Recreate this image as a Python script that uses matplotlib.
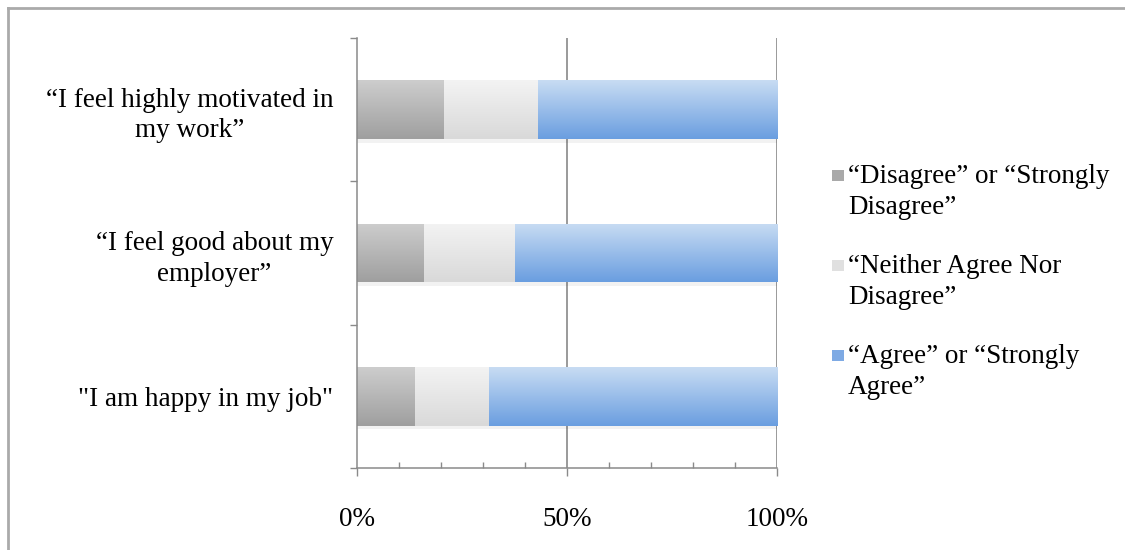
"""Stacked 100% survey bar chart with gradient fills."""

import matplotlib

matplotlib.use("Agg")

import matplotlib.pyplot as plt
import numpy as np
from matplotlib.colors import LinearSegmentedColormap
from matplotlib.lines import Line2D
from matplotlib.patches import Rectangle
from matplotlib.ticker import FixedLocator, MultipleLocator

statements = [
    "\u201cI feel highly motivated in\nmy work\u201d",
    "\u201cI feel good about my\nemployer\u201d",
    "\"I am happy in my job\"",
]
disagree = [20.7, 15.9, 13.8]
neutral = [22.3, 21.6, 17.6]
agree = [57.0, 62.5, 68.6]

series_labels = [
    "\u201cDisagree\u201d or \u201cStrongly\nDisagree\u201d",
    "\u201cNeither Agree Nor\nDisagree\u201d",
    "\u201cAgree\u201d or \u201cStrongly\nAgree\u201d",
]
# (top colour, bottom colour) of each gradient fill
gradients = [
    ("#cdcdcd", "#9f9f9f"),
    ("#f3f3f3", "#d9d9d9"),
    ("#c8dcf3", "#6a9ee0"),
]
legend_colors = ["#a9a9a9", "#e0e0e0", "#7eaae4"]
x_ticks = [0, 50, 100]
x_tick_labels = ["0%", "50%", "100%"]

plt.rcParams["font.family"] = ["Liberation Serif", "DejaVu Serif"]
AXIS_GREY = "#8a8a8a"
FONT_SIZE = 19.5
W, H = 1125, 550

fig = plt.figure(figsize=(W / 100, H / 100), dpi=100)
ax = fig.add_axes([357 / W, 1 - 468 / H, 420 / W, 430 / H])

y = np.arange(len(statements))
left = np.zeros(len(statements))
for values, (top, bottom) in zip([disagree, neutral, agree], gradients):
    # faint drop shadow under each segment
    ax.barh(y + 0.025, values, left=left, height=0.41, color="black", alpha=0.05,
            edgecolor="none", zorder=1.5)
    bars = ax.barh(y, values, left=left, height=0.41, facecolor="none", edgecolor="none")
    cmap = LinearSegmentedColormap.from_list("grad", [top, bottom])
    for patch in bars:
        x0, y0 = patch.get_x(), patch.get_y()
        w, h = patch.get_width(), patch.get_height()
        grad = np.linspace(0, 1, 128).reshape(-1, 1)
        im = ax.imshow(
            grad,
            cmap=cmap,
            extent=(x0, x0 + w, y0, y0 + h),
            origin="lower",
            aspect="auto",
            interpolation="bilinear",
            zorder=2,
        )
        im.set_clip_path(patch)
    left += np.array(values)

ax.set_xlim(0, 100)
ax.set_ylim(len(statements) - 0.5, -0.5)

# x axis
ax.xaxis.set_major_locator(FixedLocator(x_ticks))
ax.set_xticklabels(x_tick_labels, fontsize=FONT_SIZE)
ax.xaxis.set_minor_locator(MultipleLocator(10))
ax.tick_params(axis="x", which="major", length=6, width=1, color=AXIS_GREY, pad=22)
ax.tick_params(axis="x", which="minor", length=4, width=1, color=AXIS_GREY, direction="in")
for xv in x_ticks[1:]:
    ax.axvline(xv, color="#7f7f7f", linewidth=1.1, zorder=1)

# y axis: major ticks between categories, labels on minor ticks
ax.yaxis.set_major_locator(FixedLocator(np.arange(-0.5, len(statements), 1.0)))
ax.yaxis.set_major_formatter(plt.NullFormatter())
ax.yaxis.set_minor_locator(FixedLocator(y))
ax.set_yticklabels(statements, minor=True, fontsize=FONT_SIZE,
                   multialignment="center", linespacing=1.3)
ax.tick_params(axis="y", which="major", length=5, width=1, color=AXIS_GREY)
ax.tick_params(axis="y", which="minor", length=0, pad=17)

for side in ("top", "right"):
    ax.spines[side].set_visible(False)
for side in ("left", "bottom"):
    ax.spines[side].set_color(AXIS_GREY)
    ax.spines[side].set_linewidth(1.1)

# legend drawn by hand so the swatch sits beside the first line
for i, (label, color) in enumerate(zip(series_labels, legend_colors)):
    line_y = 175 + 90 * i
    fig.add_artist(Rectangle((832 / W, 1 - (line_y + 6) / H), 12 / W, 11 / H,
                             transform=fig.transFigure, facecolor=color, edgecolor="none"))
    fig.text(848 / W, 1 - (line_y - 11) / H, label, fontsize=FONT_SIZE, va="top",
             ha="left", linespacing=1.3)

# frame lines along the top and left edges
fig.add_artist(Line2D([8 / W, 1.0], [1 - 8 / H, 1 - 8 / H], color="#aaaaaa", linewidth=2))
fig.add_artist(Line2D([8 / W, 8 / W], [0.0, 1 - 8 / H], color="#aaaaaa", linewidth=2))

fig.savefig("out.png", dpi=100)
